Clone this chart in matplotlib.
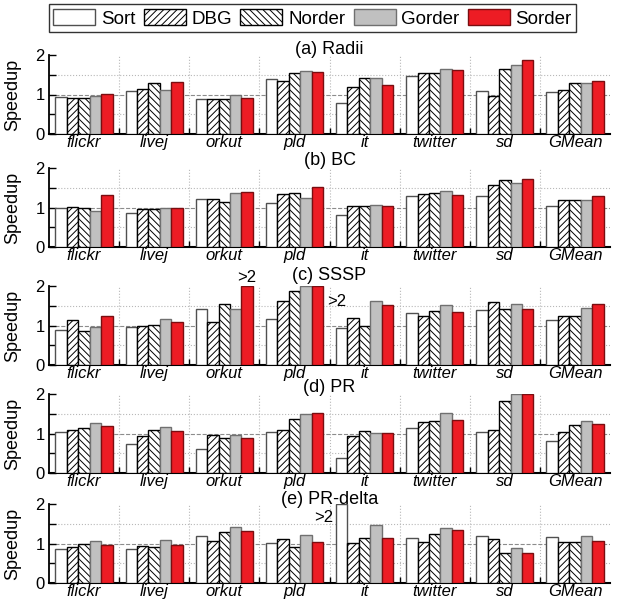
import matplotlib
matplotlib.use('Agg')
import matplotlib.pyplot as plt
import numpy as np

plt.rcParams['font.family'] = ['Liberation Sans', 'DejaVu Sans']
plt.rcParams['hatch.linewidth'] = 0.7

graphs = ['flickr', 'livej', 'orkut', 'pld', 'it', 'twitter', 'sd', 'GMean']
methods = ['Sort', 'DBG', 'Norder', 'Gorder', 'Sorder']

# speedups, one value per graph; bars above 2 are cut at 2 (marked ">2")
radii_sort = [0.94, 1.10, 0.88, 1.38, 0.78, 1.47, 1.08, 1.07]
radii_dbg = [0.91, 1.13, 0.89, 1.33, 1.19, 1.54, 0.97, 1.11]
radii_norder = [0.90, 1.30, 0.89, 1.55, 1.41, 1.54, 1.65, 1.28]
radii_gorder = [0.95, 1.12, 0.99, 1.60, 1.41, 1.64, 1.74, 1.30]
radii_sorder = [1.02, 1.31, 0.90, 1.57, 1.25, 1.62, 1.88, 1.33]

bc_sort = [0.98, 0.87, 1.21, 1.11, 0.81, 1.28, 1.29, 1.05]
bc_dbg = [1.01, 0.96, 1.21, 1.33, 1.04, 1.33, 1.58, 1.19]
bc_norder = [0.99, 0.96, 1.15, 1.36, 1.04, 1.36, 1.70, 1.19]
bc_gorder = [0.90, 0.98, 1.36, 1.24, 1.07, 1.41, 1.61, 1.19]
bc_sorder = [1.31, 0.98, 1.39, 1.53, 1.05, 1.31, 1.72, 1.30]

sssp_sort = [0.88, 0.97, 1.41, 1.17, 0.94, 1.31, 1.38, 1.14]
sssp_dbg = [1.15, 0.99, 1.08, 1.63, 1.19, 1.24, 1.59, 1.25]
sssp_norder = [0.85, 1.02, 1.55, 1.88, 0.98, 1.36, 1.41, 1.25]
sssp_gorder = [0.97, 1.17, 1.43, 2.0, 1.62, 1.53, 1.55, 1.45]
sssp_sorder = [1.25, 1.10, 2.0, 2.0, 1.53, 1.35, 1.43, 1.55]

pr_sort = [1.03, 0.74, 0.60, 1.03, 0.39, 1.15, 1.05, 0.81]
pr_dbg = [1.08, 0.93, 0.97, 1.08, 0.93, 1.29, 1.08, 1.05]
pr_norder = [1.14, 1.10, 0.89, 1.36, 1.06, 1.32, 1.82, 1.21]
pr_gorder = [1.26, 1.16, 0.97, 1.49, 1.02, 1.51, 2.0, 1.31]
pr_sorder = [1.19, 1.06, 0.89, 1.53, 1.02, 1.35, 2.0, 1.25]

prd_sort = [0.85, 0.87, 1.18, 1.02, 2.0, 1.14, 1.18, 1.17]
prd_dbg = [0.91, 0.94, 1.06, 1.12, 1.02, 1.04, 1.12, 1.04]
prd_norder = [1.00, 0.92, 1.29, 0.92, 1.14, 1.23, 0.75, 1.04]
prd_gorder = [1.06, 1.08, 1.42, 1.22, 1.48, 1.38, 0.89, 1.19]
prd_sorder = [0.96, 0.95, 1.32, 1.05, 1.15, 1.33, 0.75, 1.06]

panels = [
    ('(a) Radii', [radii_sort, radii_dbg, radii_norder, radii_gorder, radii_sorder]),
    ('(b) BC', [bc_sort, bc_dbg, bc_norder, bc_gorder, bc_sorder]),
    ('(c) SSSP', [sssp_sort, sssp_dbg, sssp_norder, sssp_gorder, sssp_sorder]),
    ('(d) PR', [pr_sort, pr_dbg, pr_norder, pr_gorder, pr_sorder]),
    ('(e) PR-delta', [prd_sort, prd_dbg, prd_norder, prd_gorder, prd_sorder]),
]

faces = ['white', 'white', 'white', '#c0c0c0', '#ed1c24']
edges = ['#505050', 'black', 'black', '#707070', '#7a0d10']
hatches = [None, '/////', '\\\\\\\\\\', None, None]

W, H = 621, 601
tops = [55, 168, 286, 394, 504]
title_up = [6, 8, 10, 7, 4]   # px between axes top and title centre
ax_h = 79
left, right = 49, 610

fig = plt.figure(figsize=(W / 100, H / 100), dpi=100)
x = np.arange(len(graphs))
w = 0.163
axes = []
for (title, series), top, up in zip(panels, tops, title_up):
    ax = fig.add_axes([left / W, 1 - (top + ax_h) / H, (right - left) / W, ax_h / H])
    axes.append(ax)
    handles = []
    for j, vals in enumerate(series):
        b = ax.bar(x + (j - 2) * w, np.minimum(vals, 2.0), w, facecolor=faces[j],
                   edgecolor=edges[j], hatch=hatches[j], linewidth=1.0, zorder=3)
        handles.append(b)
    ax.set_xlim(-0.5, len(graphs) - 0.5)
    ax.set_ylim(0, 2)
    for s in x[:-1] + 0.5:
        ax.axvline(s, color='#b8b8b8', ls=':', lw=0.8, zorder=0)
    ax.axhline(0.5, color='#b8b8b8', ls=':', lw=0.8, zorder=0)
    ax.axhline(1.5, color='#b8b8b8', ls=':', lw=0.8, zorder=0)
    ax.axhline(1.0, color='#8c8c8c', ls='--', lw=0.8, zorder=0)
    for sp in ['top', 'right']:
        ax.spines[sp].set_visible(False)
    ax.spines['left'].set_linewidth(1.3)
    ax.spines['bottom'].set_linewidth(1.5)
    ax.set_yticks([0, 1, 2])
    ax.set_yticks([0.5, 1.5], minor=True)
    ax.tick_params(axis='y', which='both', direction='in', length=5, width=1, labelsize=12, pad=3)
    ax.set_xticks(x)
    ax.set_xticklabels(graphs, fontstyle='italic', fontsize=12)
    ax.set_xticks(x[:-1] + 0.5, minor=True)
    ax.tick_params(axis='x', which='major', length=0, pad=1)
    ax.tick_params(axis='x', which='minor', direction='in', length=4, width=1)
    ax.set_ylabel('Speedup', fontsize=13)
    ax.yaxis.set_label_coords(-0.049, 0.5)
    ax.annotate(title, xy=(0.5, 1.0), xycoords='axes fraction', xytext=(0, up),
                textcoords='offset pixels', ha='center', va='center', fontsize=13)

# ">2" markers for cut bars
axes[2].annotate('>2', xy=(2 + 2 * w, 2.0), xytext=(0, 9), textcoords='offset pixels',
                 ha='center', va='center', fontsize=12)
axes[2].text(3 + 2.5 * w + 0.06, 1.62, '>2', ha='left', va='center', fontsize=12)
axes[4].text(4 - 2.5 * w - 0.04, 1.67, '>2', ha='right', va='center', fontsize=12)

fig.legend(handles, methods, ncol=5, loc='upper center', bbox_to_anchor=(312.5 / W, 1 - 4 / H),
           frameon=True, fancybox=False, edgecolor='black', fontsize=13.5,
           handlelength=2.24, handleheight=1.0, handletextpad=0.3, columnspacing=0.45,
           borderpad=0.25, borderaxespad=0)

fig.savefig('out.png', dpi=100)
